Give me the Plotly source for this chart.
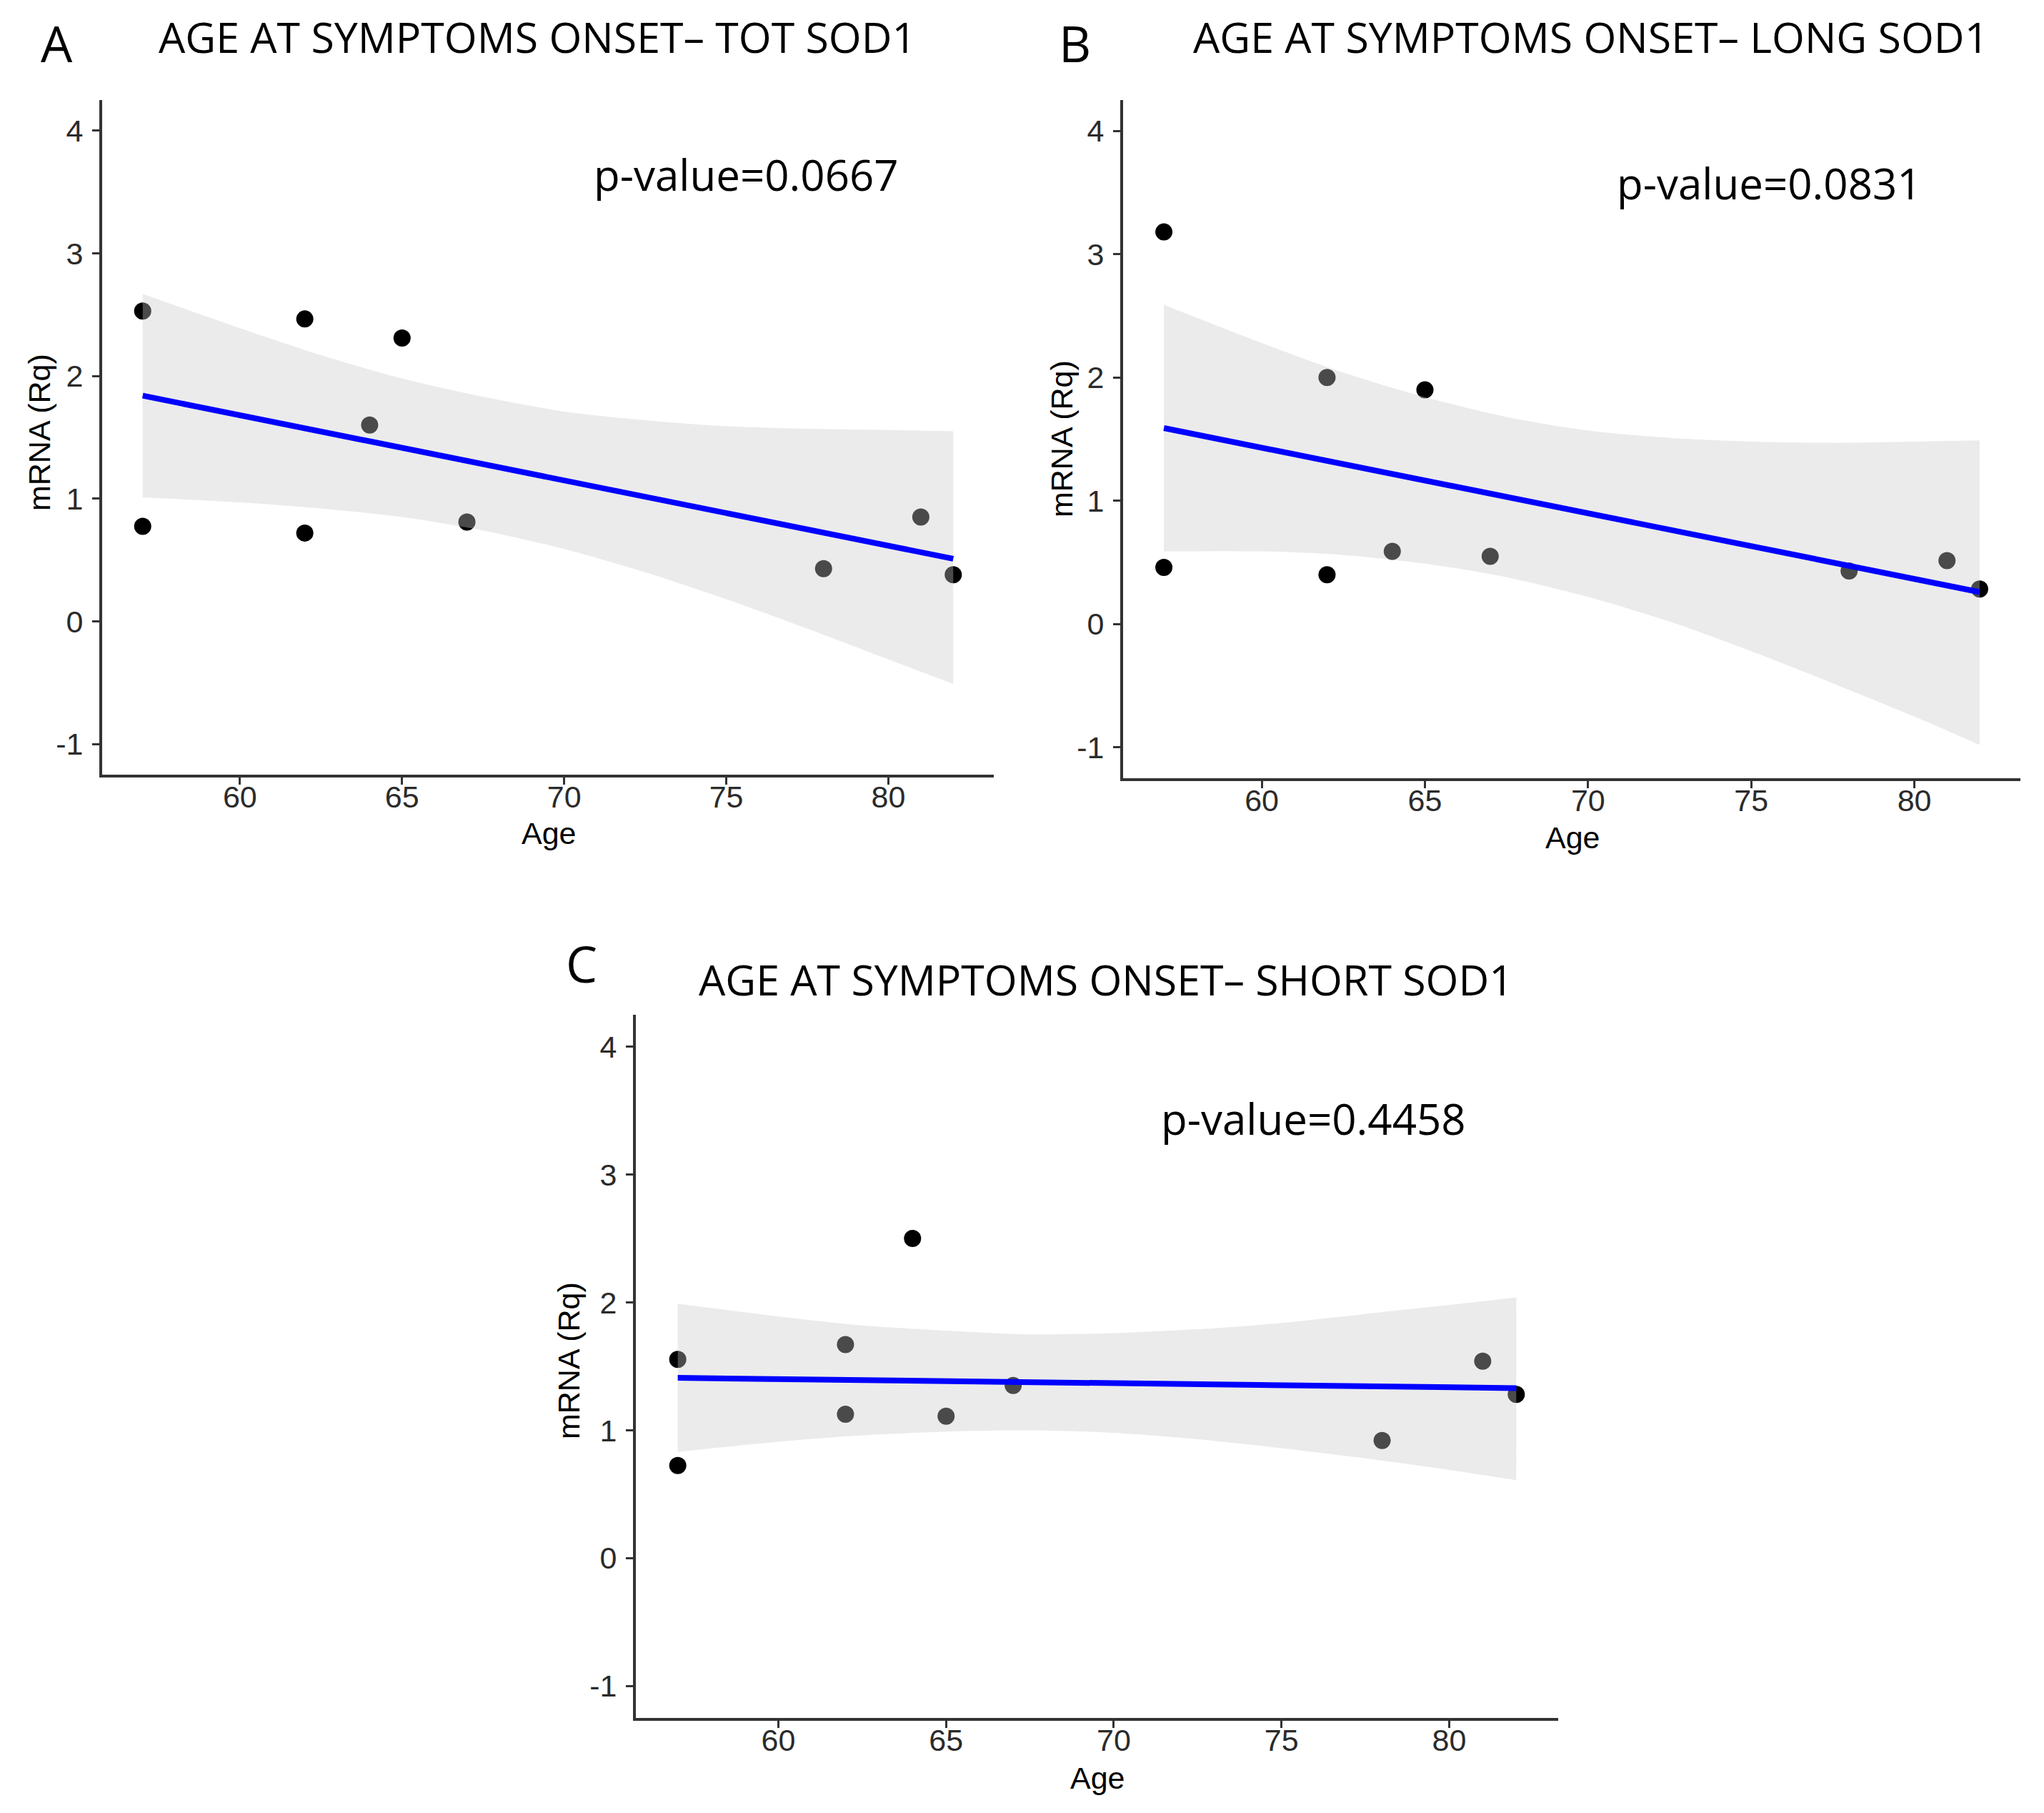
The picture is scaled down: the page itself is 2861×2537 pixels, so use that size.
import plotly.graph_objects as go

#### Part 1 : data
age = [57, 57, 62, 62, 64, 65, 67, 78, 81, 82]
tot_sod1 = [2.53, 0.775, 2.465, 0.72, 1.60, 2.31, 0.81, 0.43, 0.85, 0.38]
long_sod1 = [3.18, 0.46, 2.00, 0.40, 0.59, 1.90, 0.55, 0.43, 0.515, 0.285]
short_sod1 = [1.555, 0.725, 1.67, 1.125, 2.50, 1.11, 1.35, 0.92, 1.54, 1.28]

# confidence band of the smooth (upper / lower edge)
band_age = [57, 60, 62.5, 65, 67.5, 70, 72.5, 75, 77.5, 80, 82]
tot_upper = [2.67, 2.39, 2.17, 1.98, 1.83, 1.71, 1.64, 1.59, 1.57, 1.56, 1.55]
tot_lower = [1.01, 0.97, 0.92, 0.85, 0.74, 0.59, 0.40, 0.18, -0.06, -0.31, -0.51]
long_upper = [2.59, 2.28, 2.04, 1.84, 1.68, 1.57, 1.51, 1.48, 1.47, 1.48, 1.49]
long_lower = [0.59, 0.59, 0.56, 0.49, 0.38, 0.22, 0.02, -0.22, -0.48, -0.75, -0.98]
short_upper = [1.99, 1.89, 1.82, 1.78, 1.75, 1.76, 1.79, 1.84, 1.91, 1.98, 2.04]
short_lower = [0.83, 0.91, 0.96, 0.99, 1.00, 0.98, 0.93, 0.86, 0.78, 0.69, 0.61]

# regression line end points
fit_age = [57, 82]
tot_fit = [1.84, 0.51]
long_fit = [1.59, 0.26]
short_fit = [1.41, 1.33]

titles = ["AGE AT SYMPTOMS ONSET\u2013 TOT SOD1",
          "AGE AT SYMPTOMS ONSET\u2013 LONG SOD1",
          "AGE AT SYMPTOMS ONSET\u2013 SHORT SOD1"]
letters = ["A", "B", "C"]
pvalues = ["p-value=0.0667", "p-value=0.0831", "p-value=0.4458"]

x_ticks = [60, 65, 70, 75, 80]
x_ticktext = ["60", "65", "70", "75", "80"]
y_ticks = [-1, 0, 1, 2, 3, 4]
y_ticktext = ["-1", "0", "1", "2", "3", "4"]

#### Part 2 : layout in pixels of the 2861x2537 page
W, H = 2861, 2537
OFF = 8  # default body margin of the html page
FW, FH = W - 2 * OFF, H - 2 * OFF

panels = [
    # values, upper, lower, fit, (left, right, top, bottom) px
    (tot_sod1, tot_upper, tot_lower, tot_fit, (143, 1391, 140, 1084)),
    (long_sod1, long_upper, long_lower, long_fit, (1572, 2828, 140, 1089)),
    (short_sod1, short_upper, short_lower, short_fit, (890, 2181, 1420, 2404)),
]
# label positions (px): letter, title, p-value, x title, y title
label_pos = [
    ((79, 60), (752, 51), (1044, 244), (768, 1166), (55, 605)),
    ((1505, 60), (2226, 51), (2476, 256), (2201, 1172), (1486, 614)),
    ((814, 1348), (1548, 1370), (1838, 1565), (1536, 2488), (796, 1904)),
]

fig = go.Figure()
ann = []
band_fill = "rgba(200,200,200,0.37)"
calibri_like = "Open Sans"
arial_like = "Liberation Sans"


def fx(x):
    return (x - OFF) / FW


def fy(y):
    return 1 - (y - OFF) / FH


for i, (vals, up, lo, fit, box) in enumerate(panels):
    sfx = "" if i == 0 else str(i + 1)
    xa, ya = "x" + sfx, "y" + sfx
    fig.add_trace(go.Scatter(x=age, y=vals, mode="markers", xaxis=xa, yaxis=ya,
                             marker=dict(color="black", size=24, line=dict(width=0)),
                             showlegend=False, hoverinfo="skip"))
    fig.add_trace(go.Scatter(x=band_age, y=up, mode="lines", xaxis=xa, yaxis=ya,
                             line=dict(width=0, shape="spline", smoothing=0.8),
                             showlegend=False, hoverinfo="skip"))
    fig.add_trace(go.Scatter(x=band_age, y=lo, mode="lines", xaxis=xa, yaxis=ya,
                             line=dict(width=0, shape="spline", smoothing=0.8),
                             fill="tonexty", fillcolor=band_fill,
                             showlegend=False, hoverinfo="skip"))
    fig.add_trace(go.Scatter(x=fit_age, y=fit, mode="lines", xaxis=xa, yaxis=ya,
                             line=dict(color="#0000ff", width=8),
                             showlegend=False, hoverinfo="skip"))

    l, r, t, b = box
    axis_common = dict(showline=True, linecolor="#333333", linewidth=4,
                       ticks="outside", ticklen=10, tickwidth=3, tickcolor="#333333",
                       showgrid=False, zeroline=False, automargin=False,
                       tickfont=dict(family=arial_like, size=43, color="#2b2b2b"))
    fig.update_layout({
        "xaxis" + sfx: dict(axis_common, domain=[fx(l), fx(r)], range=[55.75, 83.25],
                            anchor=ya, tickvals=x_ticks, ticktext=x_ticktext,
                            ticklabelstandoff=-20),
        "yaxis" + sfx: dict(axis_common, domain=[fy(b), fy(t)], range=[-1.25, 4.25],
                            anchor=xa, tickvals=y_ticks, ticktext=y_ticktext,
                            ticklabelstandoff=4),
    })

    lp, tp, pp, xt, yt = label_pos[i]
    ann.append(dict(text=letters[i], x=fx(lp[0]), y=fy(lp[1]),
                    font=dict(family=calibri_like, size=70, color="black")))
    ann.append(dict(text=titles[i], x=fx(tp[0]), y=fy(tp[1]),
                    font=dict(family=calibri_like, size=59, color="black")))
    ann.append(dict(text=pvalues[i], x=fx(pp[0]), y=fy(pp[1]),
                    font=dict(family=calibri_like, size=60, color="black")))
    ann.append(dict(text="Age", x=fx(xt[0]), y=fy(xt[1]),
                    font=dict(family=arial_like, size=43, color="black")))
    ann.append(dict(text="mRNA (Rq)", x=fx(yt[0]), y=fy(yt[1]), textangle=-90,
                    font=dict(family=arial_like, size=43, color="black")))

for a in ann:
    a.update(xref="paper", yref="paper", showarrow=False,
             xanchor="center", yanchor="middle")

fig.update_layout(width=FW, height=FH, margin=dict(l=0, r=0, t=0, b=0),
                  plot_bgcolor="white", paper_bgcolor="white",
                  annotations=ann)

fig.write_html("out.html")
